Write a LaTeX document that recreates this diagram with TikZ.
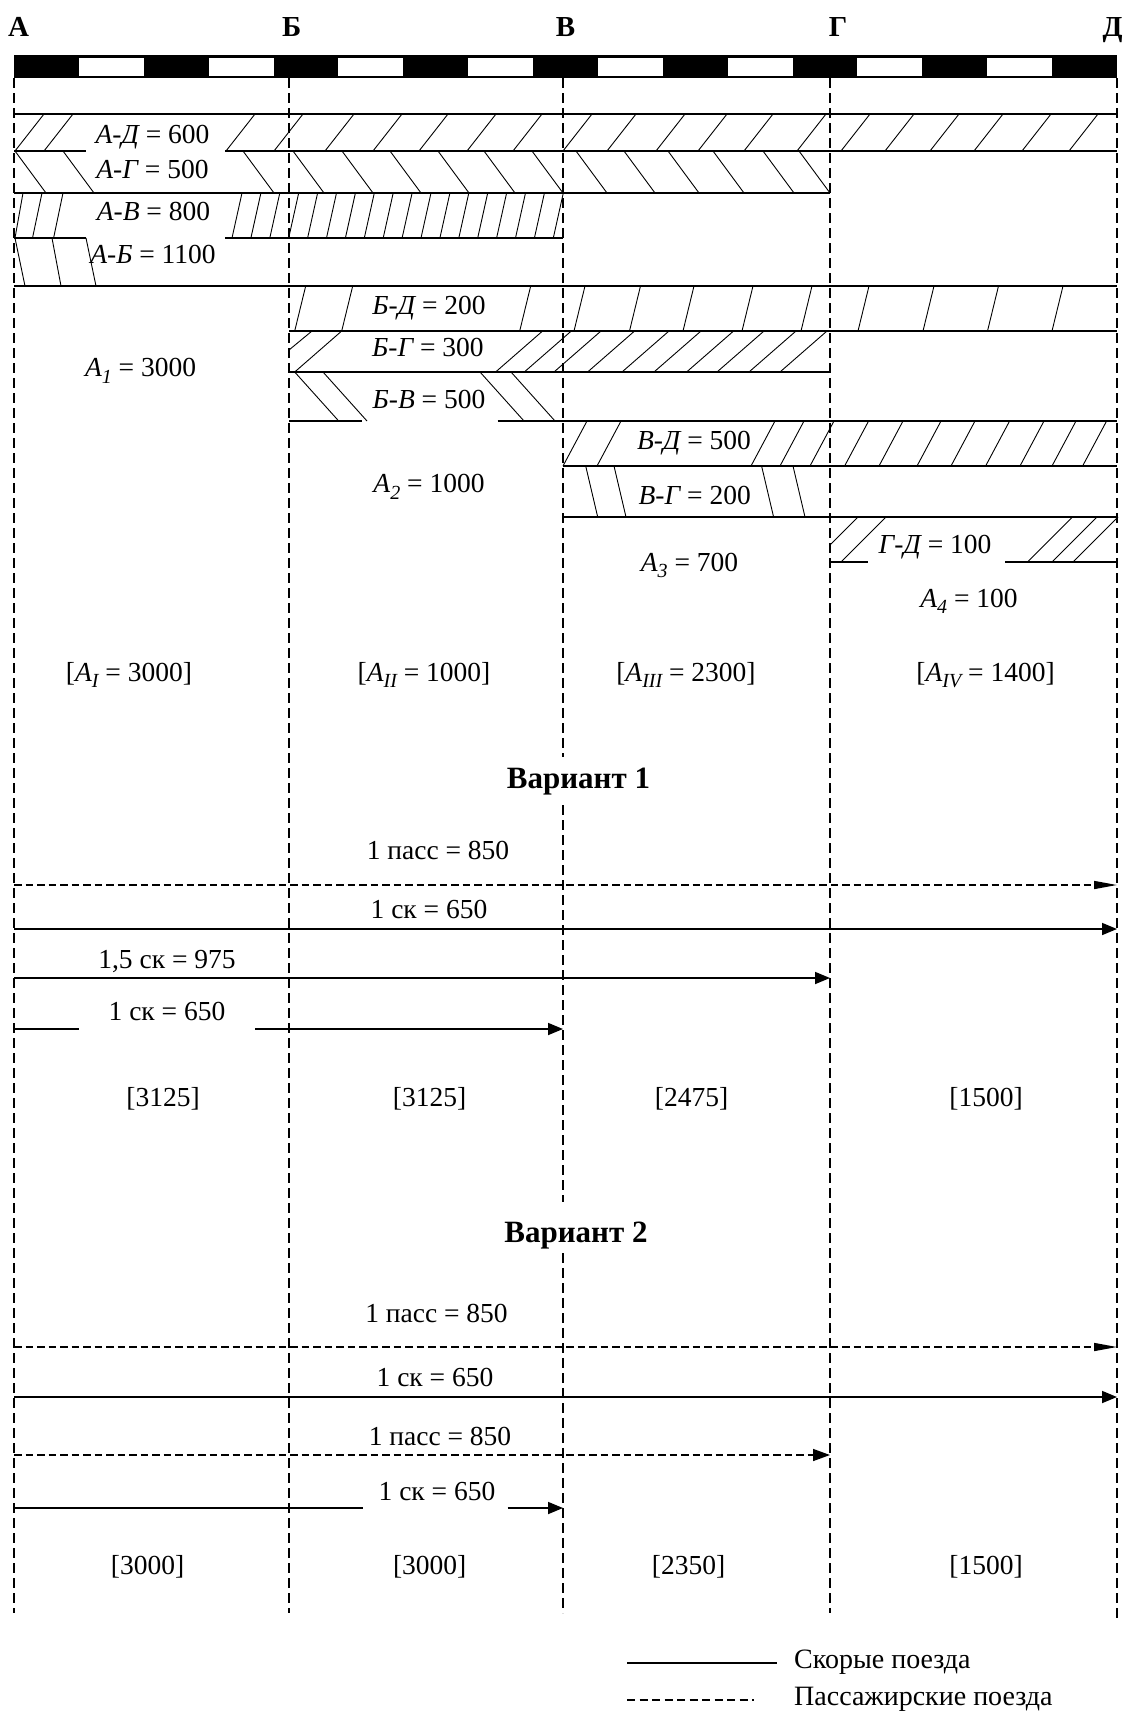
\documentclass[tikz,border=0pt]{standalone}
\usepackage{fontspec}
\setmainfont{Liberation Serif}
\usetikzlibrary{arrows.meta}
\newcommand{\sbs}[1]{\raisebox{-0.24em}{\fontsize{20}{20}\selectfont\itshape #1}}
\newcommand{\itl}[1]{{\itshape #1}}
\begin{document}
\begin{tikzpicture}[x=1pt,y=-1pt,
  bandline/.style={line width=1.3pt},
  hatchline/.style={line width=0.9pt},
  colline/.style={line width=1.2pt, dash pattern=on 10pt off 5pt},
  lbl/.style={inner sep=0pt, anchor=base, font=\fontsize{27.5}{30}\selectfont},
  stn/.style={inner sep=0pt, anchor=base, font=\fontsize{29}{31}\selectfont\bfseries},
  ttl/.style={inner sep=0pt, anchor=base, font=\fontsize{31}{34}\selectfont\bfseries},
  leg/.style={inner sep=0pt, anchor=base west, font=\fontsize{28}{30}\selectfont},
  fastline/.style={line width=1.7pt},
  fast/.style={line width=1.7pt, -{Triangle[length=15pt,width=12pt]}},
  pass/.style={line width=1.5pt, dash pattern=on 7.5pt off 4pt, -{Triangle[length=23pt,width=8pt]}},
  passg/.style={line width=1.5pt, dash pattern=on 7.5pt off 4pt, -{Triangle[length=17pt,width=12pt]}},
]
\def\xA{14}\def\xB{289}\def\xV{563}\def\xG{830}\def\xD{1117}
\fill[white] (0,0) rectangle (1137,1711);
\useasboundingbox (0,0) rectangle (1137,1711);

% station labels
\node[stn] (sA) at (18.5,36.7) {А};
\node[stn] (sB) at (291.7,36.7) {Б};
\node[stn] (sV) at (565.5,36.7) {В};
\node[stn] (sG) at (838,36.7) {Г};
\node[stn] (sD) at (1112.5,36.7) {Д};

% scale bar
\fill (\xA,55) rectangle (\xD,78);
\foreach \i in {1,3,...,15}
  \fill[white] ({14+64.882*\i},57.5) rectangle ({14+64.882*(\i+1)},75.5);

% column lines
\draw[colline] (\xA,78) -- (\xA,1613);
\draw[colline] (\xB,78) -- (\xB,1613);
\draw[colline] (\xV,78) -- (\xV,757) (\xV,805) -- (\xV,1202) (\xV,1253) -- (\xV,1613);
\draw[colline] (\xG,78) -- (\xG,1613);
\draw[colline] (\xD,78) -- (\xD,1622);

% band lines
\draw[bandline] (\xA,114) -- (\xD,114);
\draw[bandline] (\xA,151) -- (86,151) (225,151) -- (\xD,151);
\draw[bandline] (\xA,193) -- (\xG,193);
\draw[bandline] (\xA,238) -- (86,238) (225,238) -- (\xV,238);
\draw[bandline] (\xA,286) -- (\xD,286);
\draw[bandline] (\xB,331) -- (\xD,331);
\draw[bandline] (\xB,372) -- (\xG,372);
\draw[bandline] (\xB,421) -- (361.6,421) (497.5,421) -- (\xD,421);
\draw[bandline] (\xV,466) -- (\xD,466);
\draw[bandline] (\xV,517) -- (\xD,517);
\draw[bandline] (\xG,562) -- (867.5,562) (1005,562) -- (\xD,562);

% hatching A-D
\foreach \b in {15,44,226,274,325,373,419,467,513,563,607,656,698,744,797,841,885,930,974,1022,1069}
  \draw[hatchline] (\b,151) -- ({\b+29},114);
% hatching A-G
\foreach \t in {15,63,243,293,342,390,438,484,532,576,624,668,713,763,799}
  \draw[hatchline] (\t,151) -- ({\t+31},193);
% hatching A-V
\draw[hatchline] (15,238) -- (23,193) (32.5,238) -- (42,193) (53.6,238) -- (63,193);
\foreach \k in {0,...,17}
  \draw[hatchline] ({232+18.9*\k},238) -- ({242+18.9*\k},193);
% hatching A-B
\draw[hatchline] (15,238) -- (25,286) (52,238) -- (61,286) (86,238) -- (96,286);
% hatching B-D
\foreach \b in {294.7,341.7,519.7,574,629.5,683,742,801,858,923,987.5,1052}
  \draw[hatchline] (\b,331) -- ({\b+11},286);
% hatching B-G
\draw[hatchline] (\xB,350) -- (312,331);
\foreach \b in {294.7,495.6,524.3,554,587.6,622,654,686.6,717,749,780}
  \draw[hatchline] (\b,372) -- ({\b+47},331);
% hatching B-V
\foreach \t in {294.7,323,480,511}
  \draw[hatchline] (\t,372) -- ({\t+44},421);
% hatching V-D
\foreach \b in {563,597,751,780,810,844.6,879,917,951,985.6,1020,1052,1082.6}
  \draw[hatchline] (\b,466) -- ({\b+24},421);
% hatching V-G
\foreach \t in {585.7,614,761.6,793}
  \draw[hatchline] (\t,466) -- ({\t+12},517);
% hatching G-D
\draw[hatchline] (\xG,545) -- (858,517);
\foreach \b in {841,1027.4,1052,1073}
  \draw[hatchline] (\b,562) -- ({\b+45},517);

% band labels
\node[lbl] (lAD) at (152.5,143) {\itl{А-Д} = 600};
\node[lbl] (lAG) at (152.5,178) {\itl{А-Г} = 500};
\node[lbl] (lAV) at (153.5,220.7) {\itl{А-В} = 800};
\node[lbl] (lAB) at (153,263) {\itl{А-Б} = 1100};
\node[lbl] (lBD) at (429,314) {\itl{Б-Д} = 200};
\node[lbl] (lBG) at (428,356.7) {\itl{Б-Г} = 300};
\node[lbl] (lBV) at (429,408) {\itl{Б-В} = 500};
\node[lbl] (lVD) at (694,449) {\itl{В-Д} = 500};
\node[lbl] (lVG) at (694.7,504) {\itl{В-Г} = 200};
\node[lbl] (lGD) at (935,553) {\itl{Г-Д} = 100};
\node[lbl] (a1) at (140.6,376.7) {\itl{A}\sbs{1} = 3000};
\node[lbl] (a2) at (429,492.7) {\itl{A}\sbs{2} = 1000};
\node[lbl] (a3) at (689.5,571) {\itl{A}\sbs{3} = 700};
\node[lbl] (a4) at (969,607) {\itl{A}\sbs{4} = 100};
\node[lbl] (aI) at (129,681) {[\itl{A}\sbs{I} = 3000]};
\node[lbl] (aII) at (424,681) {[\itl{A}\sbs{II} = 1000]};
\node[lbl] (aIII) at (686,681) {[\itl{A}\sbs{III} = 2300]};
\node[lbl] (aIV) at (985.6,681) {[\itl{A}\sbs{IV} = 1400]};

% Variant 1
\node[ttl] (t1) at (578.5,788.3) {Вариант 1};
\node[lbl] (v1a) at (438,859.3) {1 пасс = 850};
\node[lbl] (v1b) at (429,918.3) {1 ск = 650};
\node[lbl] (v1c) at (167,968.3) {1,5 ск = 975};
\node[lbl] (v1d) at (167,1020) {1 ск = 650};
\coordinate (p1s) at (\xA,885); \coordinate (p1e) at (\xD,885);
\coordinate (f1s) at (\xA,929); \coordinate (f1e) at (\xD,929);
\coordinate (f2s) at (\xA,978); \coordinate (f2e) at (\xG,978);
\coordinate (f3s) at (\xA,1029); \coordinate (f3a) at (78.5,1029);
\coordinate (f3b) at (255,1029); \coordinate (f3e) at (\xV,1029);
\draw[pass] (p1s) -- (p1e);
\draw[fast] (f1s) -- (f1e);
\draw[fast] (f2s) -- (f2e);
\draw[fastline] (f3s) -- (f3a);
\draw[fast] (f3b) -- (f3e);
\node[lbl] (r1) at (163,1106.7) {[3125]};
\node[lbl] (r2) at (429.6,1106.7) {[3125]};
\node[lbl] (r3) at (691.6,1106.7) {[2475]};
\node[lbl] (r4) at (986,1106.7) {[1500]};

% Variant 2
\node[ttl] (t2) at (576,1242.7) {Вариант 2};
\node[lbl] (v2a) at (436.5,1322.7) {1 пасс = 850};
\node[lbl] (v2b) at (435,1386.7) {1 ск = 650};
\node[lbl] (v2c) at (440,1445) {1 пасс = 850};
\node[lbl] (v2d) at (437,1500) {1 ск = 650};
\coordinate (p2s) at (\xA,1347); \coordinate (p2e) at (\xD,1347);
\coordinate (g1s) at (\xA,1397); \coordinate (g1e) at (\xD,1397);
\coordinate (p3s) at (\xA,1455); \coordinate (p3e) at (\xG,1455);
\coordinate (g2s) at (\xA,1508); \coordinate (g2a) at (362.6,1508);
\coordinate (g2b) at (507.6,1508); \coordinate (g2e) at (\xV,1508);
\draw[pass] (p2s) -- (p2e);
\draw[fast] (g1s) -- (g1e);
\draw[passg] (p3s) -- (p3e);
\draw[fastline] (g2s) -- (g2a);
\draw[fast] (g2b) -- (g2e);
\node[lbl] (s1) at (147.6,1574) {[3000]};
\node[lbl] (s2) at (429.7,1574) {[3000]};
\node[lbl] (s3) at (688.5,1574) {[2350]};
\node[lbl] (s4) at (986,1574) {[1500]};

% legend
\coordinate (L1s) at (627,1663); \coordinate (L1e) at (777,1663);
\coordinate (L2s) at (627,1700); \coordinate (L2e) at (754,1700);
\draw[line width=1.8pt] (L1s) -- (L1e);
\draw[line width=1.4pt, dash pattern=on 8pt off 4.5pt] (L2s) -- (L2e);
\node[leg] (leg1) at (794,1668) {Скорые поезда};
\node[leg] (leg2) at (794,1705) {Пассажирские поезда};
\end{tikzpicture}
\end{document}
